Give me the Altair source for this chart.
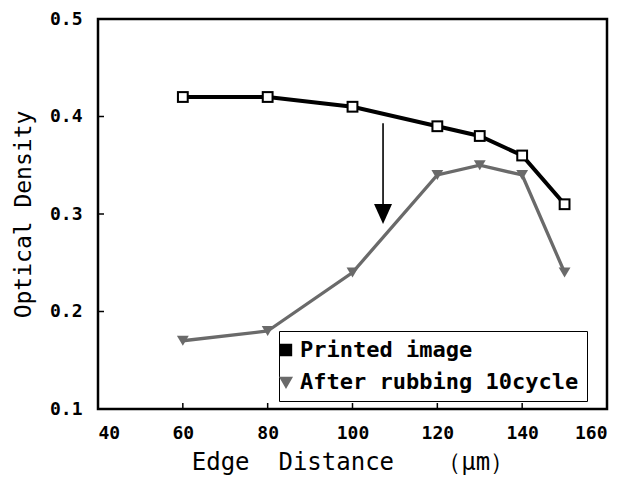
import altair as alt
import pandas as pd

# ---- data ----
x_vals = [60, 80, 100, 120, 130, 140, 150]
printed = [0.42, 0.42, 0.41, 0.39, 0.38, 0.36, 0.31]
rubbed = [0.17, 0.18, 0.24, 0.34, 0.35, 0.34, 0.24]
series_names = ["Printed image", "After rubbing 10cycle"]

x_ticks = [40, 60, 80, 100, 120, 140, 160]
y_ticks = [0.1, 0.2, 0.3, 0.4, 0.5]
x_inner_ticks = [60, 80, 100, 120, 140]
y_inner_ticks = [0.2, 0.3, 0.4]

arrow_x = [107.2]
arrow_top = [0.393]
arrow_bottom = [0.31]
arrow_head = [0.30]

W, H = 509, 390
FONT = "DejaVu Sans Mono"

rows = []
for xv, a, b in zip(x_vals, printed, rubbed):
    rows.append({"x": xv, "y": a, "series": series_names[0]})
    rows.append({"x": xv, "y": b, "series": series_names[1]})
df = pd.DataFrame(rows)

xscale = alt.Scale(domain=[40, 160], nice=False, zero=False)
yscale = alt.Scale(domain=[0.1, 0.5], nice=False, zero=False)
cscale = alt.Scale(domain=series_names, range=["#000000", "#6a6a6a"])
sscale = alt.Scale(domain=series_names, range=["square", "triangle-down"])

xaxis = alt.Axis(values=x_ticks, format="d",
                 title="Edge\u00a0\u00a0Distance\u00a0\u00a0\u00a0\uff08\u03bcm\uff09",
                 titleFontSize=24,
                 grid=False, ticks=False, domain=False, labelPadding=15, titlePadding=8)
yaxis = alt.Axis(values=y_ticks, format=".1f", title="Optical Density",
                 grid=False, ticks=False, domain=False, labelPadding=16, titlePadding=14)

legend = alt.Legend(title=None, orient="none", legendX=181, legendY=312,
                    strokeColor="black", fillColor="white", padding=8,
                    labelFont=FONT, labelFontWeight="bold", labelFontSize=22,
                    labelColor="black", symbolSize=70, symbolStrokeWidth=0,
                    symbolOffset=-12, rowPadding=8, labelOffset=3, labelLimit=400)

base = alt.Chart(df)

lines = base.mark_line().encode(
    x=alt.X("x:Q", scale=xscale, axis=xaxis),
    y=alt.Y("y:Q", scale=yscale, axis=yaxis),
    color=alt.Color("series:N", scale=cscale, legend=legend),
    strokeWidth=alt.StrokeWidth("series:N", scale=alt.Scale(domain=series_names, range=[4, 3.3]), legend=None),
    detail="series:N",
)

points = base.mark_point(size=140, filled=True, opacity=1).encode(
    x=alt.X("x:Q", scale=xscale),
    y=alt.Y("y:Q", scale=yscale),
    color=alt.Color("series:N", scale=cscale, legend=legend),
    shape=alt.Shape("series:N", scale=sscale, legend=legend),
)

holes = base.transform_filter(alt.datum.series == series_names[0]).mark_point(
    size=60, filled=True, shape="square", color="white", opacity=1).encode(
    x=alt.X("x:Q", scale=xscale),
    y=alt.Y("y:Q", scale=yscale),
)

arrow_df = pd.DataFrame({"x": arrow_x, "y": arrow_top, "y2": arrow_bottom, "h": arrow_head})
arrow_line = alt.Chart(arrow_df).mark_rule(strokeWidth=1.6, color="black").encode(
    x=alt.X("x:Q", scale=xscale), y=alt.Y("y:Q", scale=yscale), y2="y2:Q")
arrow_tip = alt.Chart(arrow_df).mark_point(shape="M-0.9,-1L0.9,-1L0,1Z", size=400, filled=True,
                                           color="black", opacity=1).encode(
    x=alt.X("x:Q", scale=xscale), y=alt.Y("h:Q", scale=yscale))

ytick_df = pd.DataFrame({"v": y_inner_ticks})
ytick = alt.Chart(ytick_df).mark_rule(strokeWidth=1.5, color="black").encode(
    y=alt.Y("v:Q", scale=yscale), x=alt.value(0), x2=alt.value(6))
xtick_df = pd.DataFrame({"v": x_inner_ticks})
xtick = alt.Chart(xtick_df).mark_rule(strokeWidth=1.5, color="black").encode(
    x=alt.X("v:Q", scale=xscale), y=alt.value(H), y2=alt.value(H - 6))

chart = alt.layer(lines, points, holes, arrow_line, arrow_tip, ytick, xtick).properties(
    width=W, height=H,
    padding={"left": 4, "top": 2, "right": 5, "bottom": 2},
    background="white",
).configure_view(
    stroke="black", strokeWidth=2.5, fill="white"
).configure_axis(
    labelFont=FONT, labelFontWeight="bold", labelFontSize=18, labelColor="black",
    titleFont=FONT, titleFontWeight="normal", titleFontSize=23, titleColor="black",
)

chart.save("out.html", embed_options={"renderer": "svg", "actions": False})
